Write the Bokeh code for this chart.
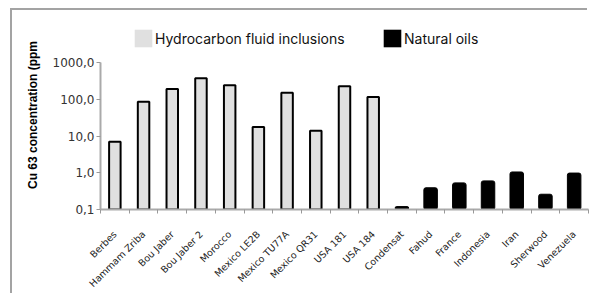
import numpy as np
from math import pi
from bokeh.plotting import figure
from bokeh.models import (Range1d, FixedTicker, CustomJSTickFormatter, Legend, LegendItem,
                          ColumnDataSource)
from bokeh.embed import file_html
from bokeh.resources import INLINE

hydro_names = ["Berbes", "Hammam Zriba", "Bou Jaber", "Bou Jaber 2", "Morocco",
               "Mexico LE2B", "Mexico TU77A", "Mexico QR31", "USA 181", "USA 184"]
hydro_values = [7.0, 85.0, 190.0, 370.0, 240.0, 17.5, 150.0, 14.0, 225.0, 115.0]

oil_names = ["Condensat", "Fahud", "France", "Indonesia", "Iran", "Sherwood", "Venezuela"]
oil_values = [0.12, 0.39, 0.53, 0.60, 1.05, 0.26, 0.98]

y_ticks = [0.1, 1, 10, 100, 1000]
legend_labels = ["Hydrocarbon fluid inclusions", "Natural oils"]
y_title = "Cu 63 concentration (ppm"

categories = hydro_names + oil_names
n = len(categories)
centers = np.arange(n) + 0.5

# frame: canvas y 10..199 ; 1000 should sit 42 px below the frame top
frame_h = 189.0
axis_h = 147.0
y_top = 10 ** (-1 + 4 * frame_h / axis_h)

p = figure(width=577, height=285, output_backend="svg", toolbar_location=None,
           x_range=Range1d(0, n), y_range=Range1d(0.1, y_top), y_axis_type="log",
           min_border_left=88, min_border_right=1, min_border_top=10, min_border_bottom=86)
p.styles = {"transform": "translate(12px, 10px)",
            "box-shadow": "-2px -2px 0 0 #a3a3a3"}
p.outline_line_color = None
p.xgrid.visible = False
p.ygrid.visible = False
p.background_fill_color = "white"
p.border_fill_color = "white"

hsrc = ColumnDataSource(dict(x=centers[:len(hydro_names)], top=hydro_values))
osrc = ColumnDataSource(dict(x=centers[len(hydro_names):], top=oil_values))

p.vbar(x="x", top="top", bottom=0.1, width=0.4, source=hsrc,
       fill_color="#e0e0e0", line_color="black", line_width=2)
p.vbar(x="x", top="top", bottom=0.1, width=0.47, source=osrc,
       fill_color="black", line_color="black", line_width=1, border_radius=2)

# legend swatches (zero-height, invisible in the plot)
lg1 = p.vbar(x=[centers[0]], top=[y_ticks[0]], bottom=y_ticks[0], width=0.4,
             fill_color="#e0e0e0", line_color=None)
lg2 = p.vbar(x=[centers[0]], top=[y_ticks[0]], bottom=y_ticks[0], width=0.4,
             fill_color="black", line_color=None)

for r, lab, loc in [(lg1, legend_labels[0], (32, 160)), (lg2, legend_labels[1], (281, 160))]:
    leg = Legend(items=[LegendItem(label=lab, renderers=[r])], location=loc,
                 padding=0, margin=0, border_line_color=None, background_fill_alpha=0,
                 glyph_width=22, glyph_height=22, label_standoff=1,
                 label_text_font="Inter", label_text_font_size="14px",
                 label_text_color="#111111", label_height=22)
    p.add_layout(leg, "center")

# x axis
xa = p.xaxis[0]
xa.ticker = FixedTicker(ticks=list(centers), minor_ticks=list(range(n + 1)))
xa.formatter = CustomJSTickFormatter(args=dict(labels=categories),
                                     code="return labels[Math.floor(tick)] || '';")
xa.major_label_orientation = pi / 4
xa.major_tick_line_color = None
xa.major_tick_out = 0
xa.major_tick_in = 0
xa.minor_tick_line_color = "#999999"
xa.minor_tick_out = 4
xa.minor_tick_in = 0
xa.axis_line_color = "#aaaaaa"
xa.axis_line_width = 2
xa.major_label_text_font = "DejaVu Sans"
xa.major_label_text_font_size = "9.5px"
xa.major_label_text_color = "#222222"
xa.major_label_standoff = 19

# y axis
ya = p.yaxis[0]
ya.bounds = (0.1, 1000)
ya.ticker = FixedTicker(ticks=y_ticks, minor_ticks=[])
ya.formatter = CustomJSTickFormatter(code="return tick.toFixed(1).replace('.', ',');")
ya.axis_line_color = "#aaaaaa"
ya.axis_line_width = 2
ya.major_tick_line_color = "#999999"
ya.major_tick_out = 4
ya.major_tick_in = 0
ya.minor_tick_line_color = None
ya.major_label_text_font = "DejaVu Sans"
ya.major_label_text_font_size = "12px"
ya.major_label_text_color = "#333333"
ya.major_label_standoff = 2
ya.axis_label = y_title
ya.axis_label_text_font = "Liberation Sans"
ya.axis_label_text_font_style = "bold"
ya.axis_label_text_font_size = "12px"
ya.axis_label_text_color = "black"
ya.axis_label_standoff = 10

open("out.html", "w").write(file_html(p, INLINE))
